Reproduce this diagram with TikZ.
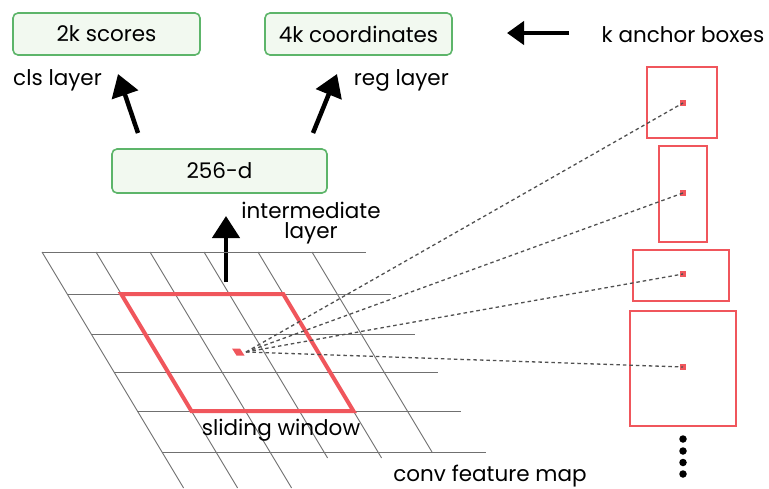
\documentclass[tikz,border=0pt]{standalone}
\usepackage{fontspec}
\setmainfont{Poppins}
\usetikzlibrary{arrows.meta}
\definecolor{boxgreen}{HTML}{5DB56A}
\definecolor{boxfill}{HTML}{F2F9F0}
\definecolor{winred}{HTML}{F0565C}
\definecolor{gridgray}{HTML}{707070}
\definecolor{dashgray}{HTML}{505050}
\tikzset{
  layerbox/.style={draw=boxgreen, fill=boxfill, line width=1.6pt, rounded corners=5pt,
    minimum height=42pt, inner sep=0pt, font=\fontsize{21.5}{21.5}\selectfont},
  label/.style={font=\fontsize{21.5}{21.5}\selectfont, inner sep=0pt},
  bigarrow/.style={line width=4.5pt, -{Triangle[length=22pt,width=27pt]}},
  gridline/.style={gridgray, line width=0.9pt},
  anchorbox/.style={draw=winred, line width=1.8pt, inner sep=0pt},
  anchordot/.style={fill=winred, minimum size=6.5pt, inner sep=0pt},
  link/.style={dashgray, line width=1.3pt, dash pattern=on 3.5pt off 3pt},
  morepoint/.style={circle, fill=black, minimum size=7.5pt, inner sep=0pt}
}
\begin{document}
\begin{tikzpicture}[x=1pt, y=-1pt]
\useasboundingbox (0,0) rectangle (769,488);

% output layers
\node[layerbox, minimum width=187pt] (cls) at (106.5,34) {2k scores};
\node[layerbox, minimum width=187pt] (reg) at (358.5,34) {4k coordinates};
\node[label, anchor=west] (clslbl) at (13,80) {cls layer};
\node[label, anchor=east] (reglbl) at (449,80) {reg layer};

% intermediate layer
\node[layerbox, minimum width=215pt, minimum height=44pt] (mid) at (219.5,171) {256-d};
\node[label, align=center] (midlbl) at (311,223) {intermediate\\[-1pt]layer};

% arrows between layers
\coordinate (c1) at (138,133);
\coordinate (c2) at (118,74);
\coordinate (r1) at (313,133);
\coordinate (r2) at (337,74);
\draw[bigarrow] (c1) -- (c2);
\draw[bigarrow] (r1) -- (r2);
\coordinate (u1) at (226,282);
\coordinate (u2) at (226,216);
\draw[bigarrow] (u1) -- (u2);
\coordinate (k1) at (569,33);
\coordinate (k2) at (507,33);
\draw[line width=4.5pt, -{Triangle[length=17pt,width=23pt]}] (k1) -- (k2);

% feature map grid (sheared)
\foreach \y in {252,294,334,372,411,452}{
  \draw[gridline] ({42+0.6*(\y-252)},\y) -- ({366+0.6*(\y-252)},\y);
}
\foreach \i/\yend in {0/488,1/488,2/488,3/458,4/458,5/452}{
  \draw[gridline] ({42+54*\i},252) -- ({42+54*\i+0.6*(\yend-252)},\yend);
}

% sliding window
\draw[winred, line width=4pt, line join=miter]
  (121.2,294) -- (283.2,294) -- (353.4,411) -- (191.4,411) -- cycle;
\node[label] (swlbl) at (281,430) {sliding window};
\node[label] (cfm) at (490,476) {conv feature map};

% window centre
\fill[winred] (232,348.5) -- (240,348.5) -- (244.5,355.5) -- (236.5,355.5) -- cycle;
\coordinate (ctr) at (246,352);

% anchor boxes
\node[label] (anc) at (683,35) {k anchor boxes};
\node[anchorbox, minimum width=70pt, minimum height=71pt] (a1) at (682,102.5) {};
\node[anchorbox, minimum width=48pt, minimum height=96pt] (a2) at (683,194) {};
\node[anchorbox, minimum width=96pt, minimum height=51pt] (a3) at (681,275.5) {};
\node[anchorbox, minimum width=106pt, minimum height=115pt] (a4) at (683,368.5) {};
\node[anchordot] (d1) at (683,103) {};
\node[anchordot] (d2) at (683,193) {};
\node[anchordot] (d3) at (683,274) {};
\node[anchordot] (d4) at (683,367) {};
\foreach \d in {d1,d2,d3,d4}{
  \draw[link] (ctr) -- (\d.center);
}

% more anchors
\node[morepoint] (m1) at (683,439) {};
\node[morepoint] (m2) at (683,451) {};
\node[morepoint] (m3) at (683,462.5) {};
\node[morepoint] (m4) at (683,474) {};
\end{tikzpicture}
\end{document}
